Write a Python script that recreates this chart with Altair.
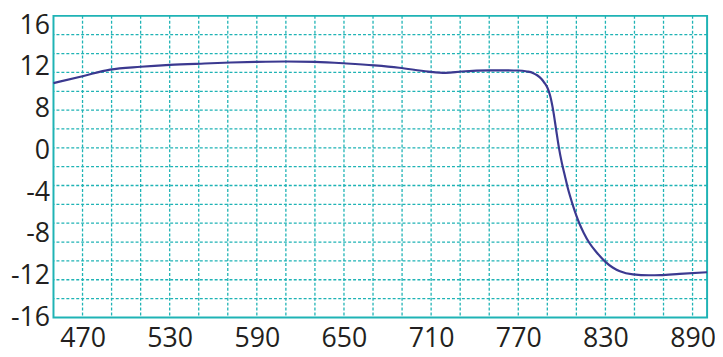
import json
import altair as alt
import pandas as pd

# curve data
x_vals = [450, 470, 489, 510, 530, 554, 572, 590, 610, 630, 652, 671, 688, 708, 720, 731, 750, 770,
          776, 780, 783, 786, 788, 790, 792, 794, 796, 798, 800, 802, 804, 806, 808, 810, 812,
          815, 819, 824, 830, 835, 840, 849, 860, 868, 881, 900]
y_vals = [8.87, 9.6, 10.3, 10.6, 10.8, 10.95, 11.05, 11.12, 11.16, 11.12, 10.95, 10.75, 10.5, 10.08, 9.95, 10.1, 10.22, 10.2,
          10.1, 9.95, 9.7, 9.3, 8.9, 8.4, 7.5, 6.0, 4.0, 2.0, 0.4, -0.9, -2.2, -3.3, -4.3, -5.2, -6.0,
          -7.0, -8.1, -9.1, -10.1, -10.7, -11.1, -11.43, -11.52, -11.5, -11.37, -11.2]

# axis labels
x_ticks = [470, 530, 590, 650, 710, 770, 830, 890]
y_labels = ["16", "12", "8", "0", "-4", "-8", "-12", "-16"]
y_label_top = 15.0
y_label_bottom = -16.0

# grid lines
x_grid = list(range(470, 891, 20))
y_grid = list(range(-14, 15, 2))

TEAL = "#1fb3b5"
LINE = "#3b3990"
FONT = "Open Sans"

step = (y_label_top - y_label_bottom) / (len(y_labels) - 1)
y_label_pos = [y_label_top - i * step for i in range(len(y_labels))]
label_expr = f"{json.dumps(y_labels)}[round(({y_label_top} - datum.value) / {step})]"

xs = alt.Scale(domain=[450, 900], nice=False, zero=False)
ys = alt.Scale(domain=[-16, 16], nice=False, zero=False)

x_axis = alt.Axis(
    values=x_ticks, title=None, grid=False, ticks=False, domain=False,
    labelFontSize=27, labelFont=FONT, labelColor="#231f20",
    labelPadding=8, labelFlush=False, labelOverlap=False, format="d")
y_axis = alt.Axis(
    values=y_label_pos, labelExpr=label_expr, title=None, grid=False,
    ticks=False, domain=False, labelFontSize=27, labelFont=FONT,
    labelColor="#231f20", labelPadding=4, labelFlush=False, labelOverlap=False)

df = pd.DataFrame({"x": x_vals, "y": y_vals})

vgrid = alt.Chart(pd.DataFrame({"x": x_grid})).mark_rule(
    color=TEAL, strokeDash=[3, 2], strokeWidth=1.3
).encode(x=alt.X("x:Q", scale=xs, axis=x_axis))

hgrid = alt.Chart(pd.DataFrame({"y": y_grid})).mark_rule(
    color=TEAL, strokeDash=[3, 2], strokeWidth=1.3
).encode(y=alt.Y("y:Q", scale=ys, axis=y_axis))

line = alt.Chart(df).mark_line(
    color=LINE, strokeWidth=2.2, interpolate="monotone"
).encode(
    x=alt.X("x:Q", scale=xs, axis=x_axis),
    y=alt.Y("y:Q", scale=ys, axis=y_axis),
)

chart = alt.layer(vgrid, hgrid, line).properties(
    width=661, height=305,
    autosize=alt.AutoSizeParams(type="none"),
    padding={"left": 46, "top": 6, "right": 8, "bottom": 36},
).configure_view(stroke=TEAL, strokeWidth=2)

chart.save("out.html", embed_options={"renderer": "svg", "actions": False})
